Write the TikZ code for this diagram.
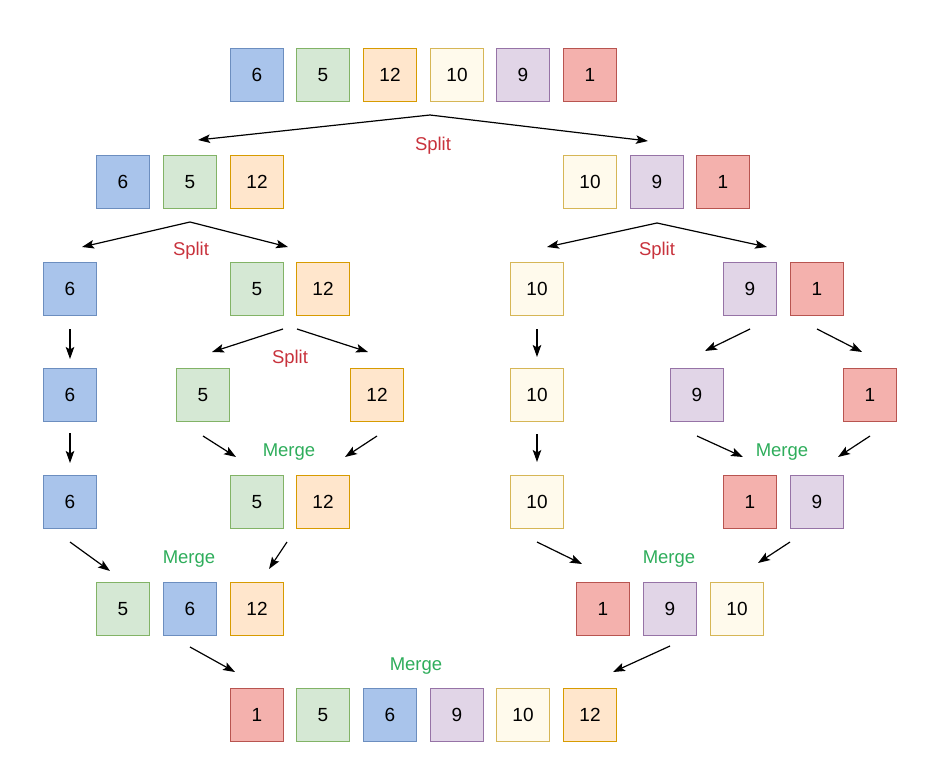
\documentclass[tikz,border=0pt]{standalone}
\usepackage{fontspec}
\setmainfont{Liberation Sans}
\usetikzlibrary{arrows.meta}
% fill / line colour of each value
\definecolor{f6}{HTML}{A9C4EB}\definecolor{l6}{HTML}{6C8EBF}
\definecolor{f5}{HTML}{D5E8D4}\definecolor{l5}{HTML}{82B366}
\definecolor{f12}{HTML}{FFE6CC}\definecolor{l12}{HTML}{D79B00}
\definecolor{f10}{HTML}{FFFAEC}\definecolor{l10}{HTML}{D6B656}
\definecolor{f9}{HTML}{E1D5E7}\definecolor{l9}{HTML}{9673A6}
\definecolor{f1}{HTML}{F4B1AD}\definecolor{l1}{HTML}{B85450}
\definecolor{splitred}{HTML}{C8323C}
\definecolor{mergegreen}{HTML}{2EAD5B}
\begin{document}
\begin{tikzpicture}[x=1pt,y=-1pt,
  cell/.style={line width=1.2pt, minimum size=52.8pt, inner sep=0pt, font=\fontsize{19}{19}\selectfont},
  arr/.style={-{Stealth[length=12pt,width=8.5pt,inset=2.5pt]}, line width=1.2pt},
  lbl/.style={anchor=base, font=\fontsize{18.5}{18.5}\selectfont}]
\useasboundingbox (0,0) rectangle (934,779);
% rows of cells
\foreach \x/\v [count=\i] in {257/6,323/5,390/12,457/10,523/9,590/1} \node[cell, fill=f\v, draw=l\v] (ra\i) at (\x,75) {\v};
\foreach \x/\v [count=\i] in {123/6,190/5,257/12,590/10,657/9,723/1} \node[cell, fill=f\v, draw=l\v] (rb\i) at (\x,182) {\v};
\foreach \x/\v [count=\i] in {70/6,257/5,323/12,537/10,750/9,817/1} \node[cell, fill=f\v, draw=l\v] (rc\i) at (\x,289) {\v};
\foreach \x/\v [count=\i] in {70/6,203/5,377/12,537/10,697/9,870/1} \node[cell, fill=f\v, draw=l\v] (rd\i) at (\x,395) {\v};
\foreach \x/\v [count=\i] in {70/6,257/5,323/12,537/10,750/1,817/9} \node[cell, fill=f\v, draw=l\v] (re\i) at (\x,502) {\v};
\foreach \x/\v [count=\i] in {123/5,190/6,257/12,603/1,670/9,737/10} \node[cell, fill=f\v, draw=l\v] (rf\i) at (\x,609) {\v};
\foreach \x/\v [count=\i] in {257/1,323/5,390/6,457/9,523/10,590/12} \node[cell, fill=f\v, draw=l\v] (rg\i) at (\x,715) {\v};
% arrow ends
\foreach \n/\x/\y in {s1/430/115,t1a/198/140,t1b/648/141,s2/190/222,t2a/82/247,t2b/288/247,
  s3/657/223,t3a/547/247,t3b/767/247,v1/70/329,w1/70/359,v2/70/433,w2/70/463,
  v3/537/329,w3/537/357,v4/537/434,w4/537/462,s4a/283/329,t4a/212/352,s4b/297/329,t4b/368/352,
  s5a/750/329,t5a/705/351,s5b/817/329,t5b/862/352,m1a/203/436,n1a/236/457,m1b/377/436,n1b/345/457,
  m2a/697/436,n2a/743/457,m2b/870/436,n2b/838/457,m3a/70/542,n3a/110/571,m3b/287/542,n3b/269/569,
  m4a/537/542,n4a/582/564,m4b/790/542,n4b/758/563,m5a/190/647,n5a/235/672,m5b/670/646,n5b/613/672}
  \coordinate (\n) at (\x,\y);
\foreach \a/\b in {s1/t1a,s1/t1b,s2/t2a,s2/t2b,s3/t3a,s3/t3b,v1/w1,v2/w2,v3/w3,v4/w4,
  s4a/t4a,s4b/t4b,s5a/t5a,s5b/t5b,m1a/n1a,m1b/n1b,m2a/n2a,m2b/n2b,m3a/n3a,m3b/n3b,
  m4a/n4a,m4b/n4b,m5a/n5a,m5b/n5b}
  \draw[arr] (\a) -- (\b);
% labels
\foreach \x/\y [count=\i] in {433/150,191/255,657/255,290/363} \node[lbl, text=splitred] (split\i) at (\x,\y) {Split};
\foreach \x/\y [count=\i] in {289/456,782/456,189/563,669/563,416/670} \node[lbl, text=mergegreen] (merge\i) at (\x,\y) {Merge};
\end{tikzpicture}
\end{document}
